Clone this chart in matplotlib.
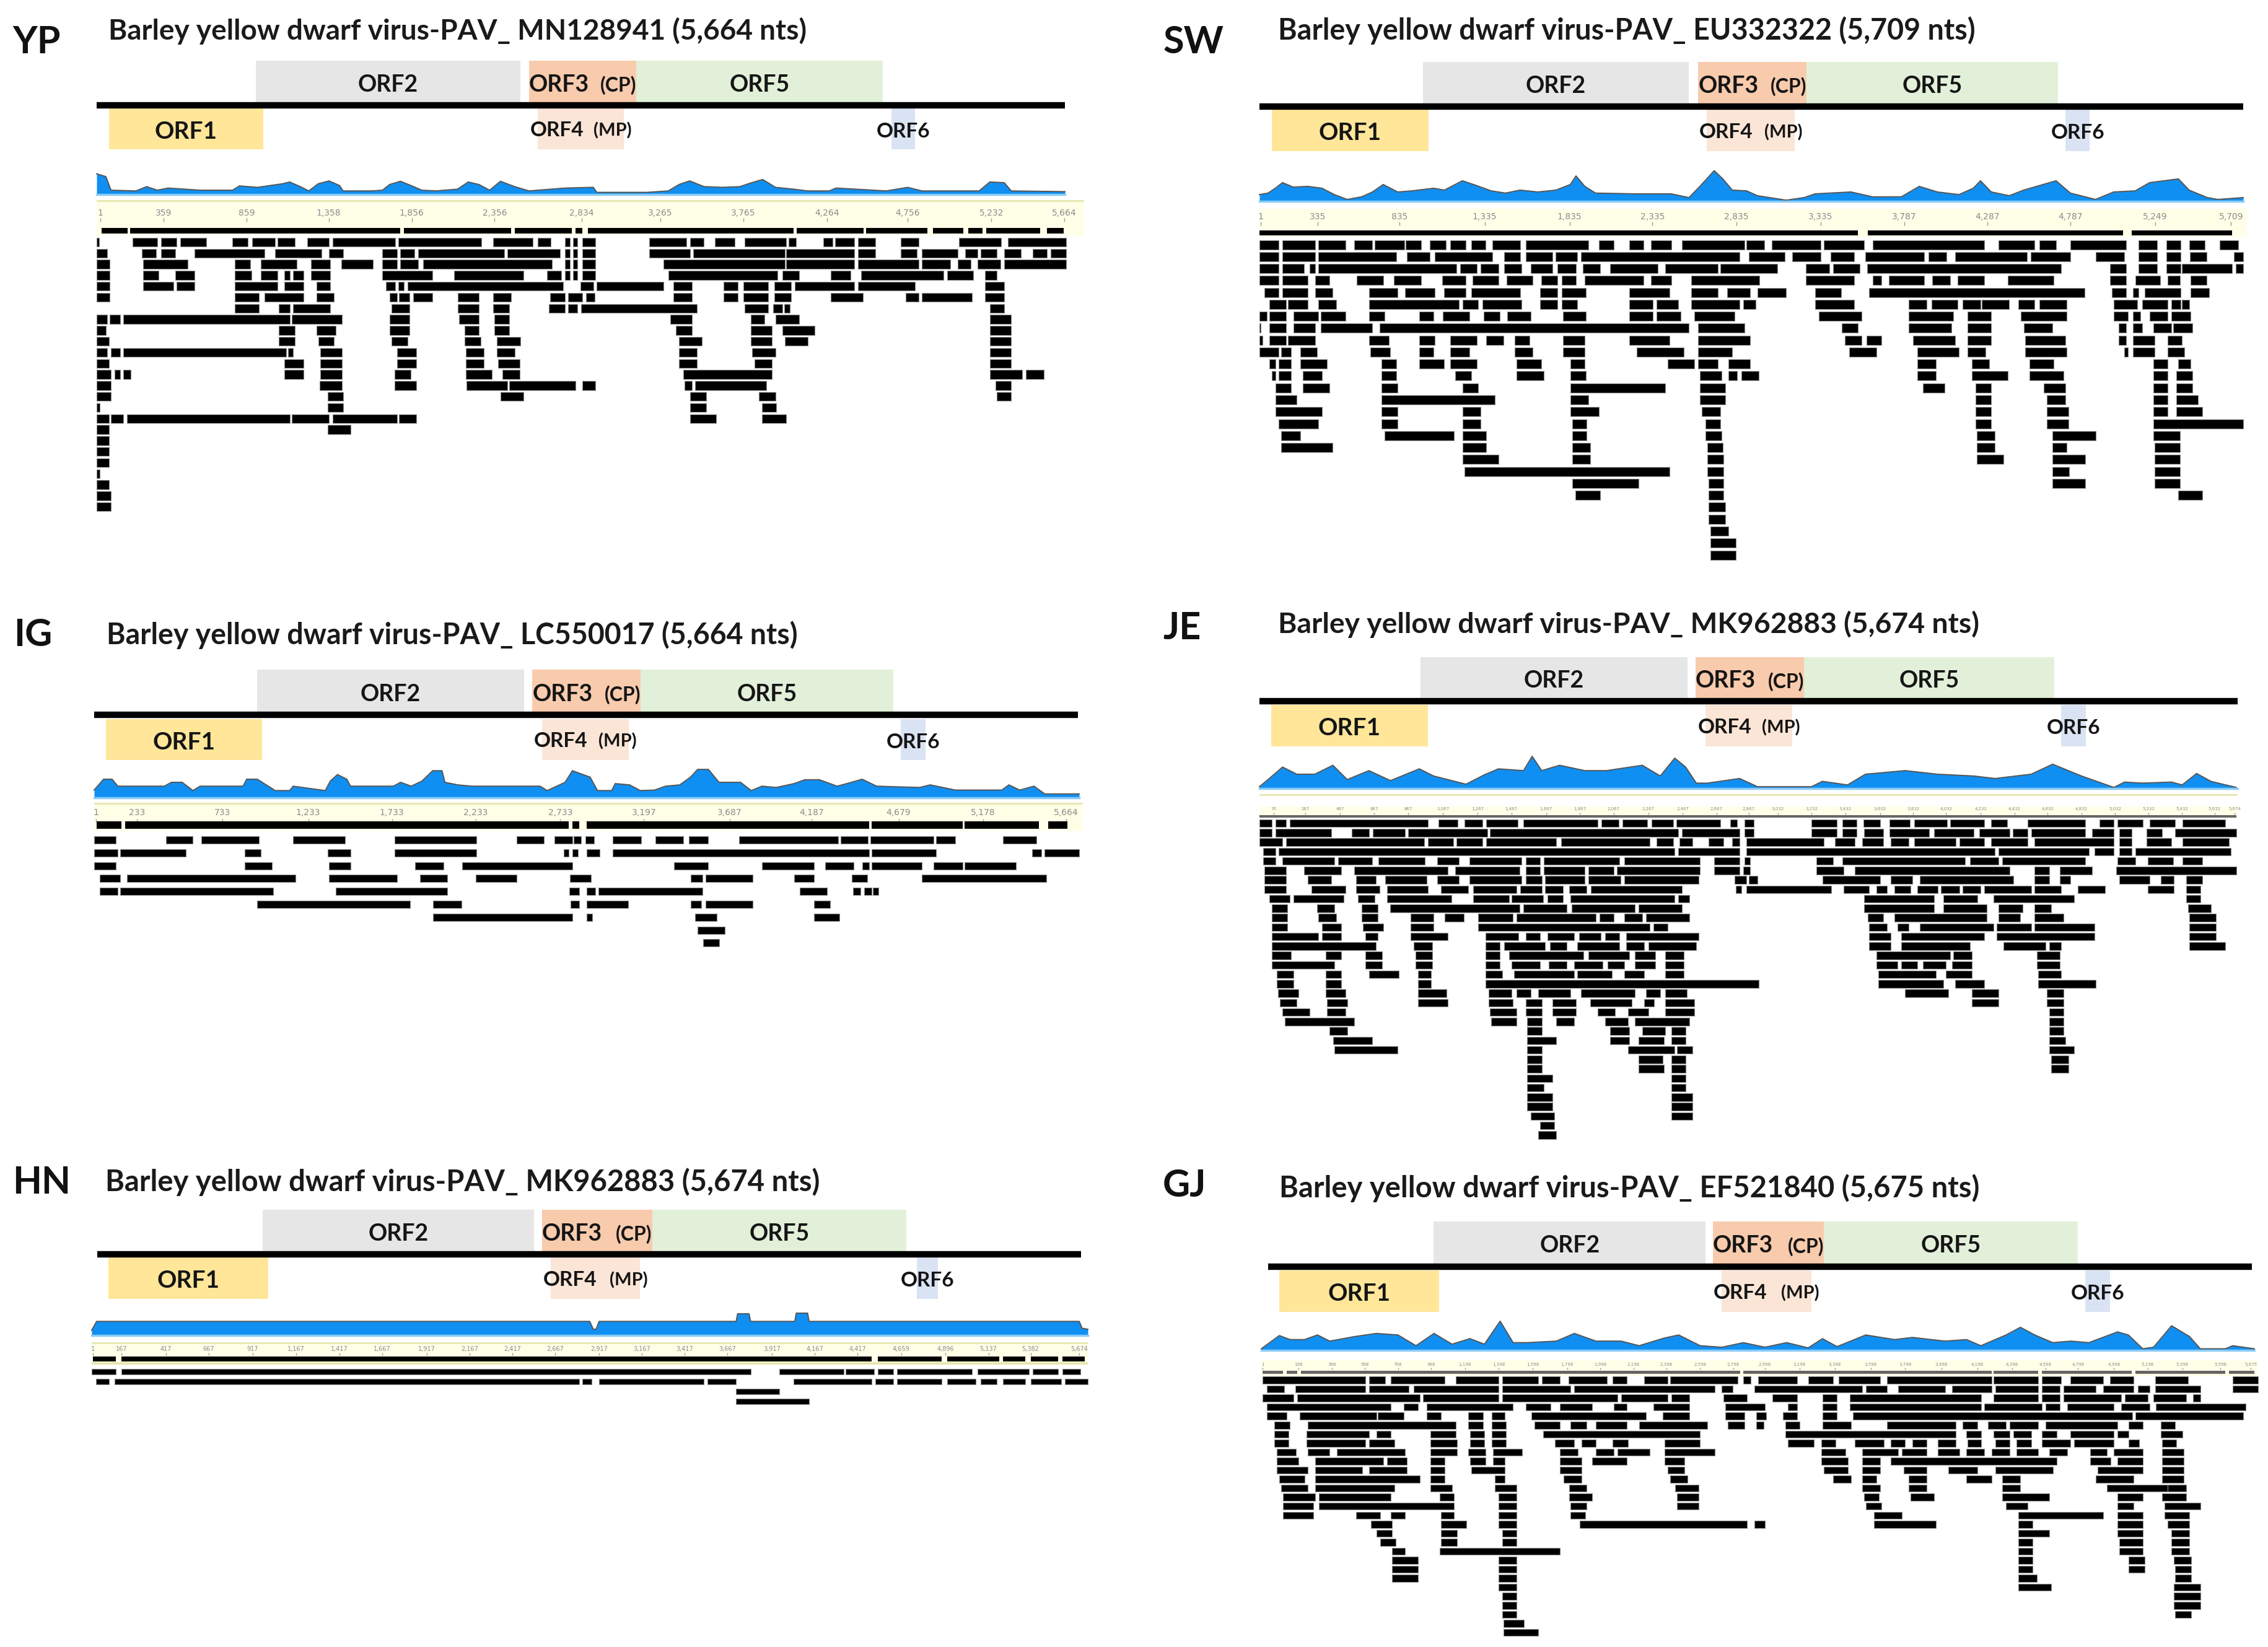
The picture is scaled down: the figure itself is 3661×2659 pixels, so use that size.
# Read pile-ups over the BYDV-PAV genome, six sites
import matplotlib
matplotlib.use('Agg')
import matplotlib.pyplot as plt

plt.rcParams['font.family'] = ['Lato', 'DejaVu Sans']

W, H = 3662, 2659

ORF_NAMES = ['ORF2', 'ORF3', 'ORF5', 'ORF1', 'ORF4', 'ORF6']

# ---------- YP ----------
orfs_yp = [(932, 2479), (2529, 3156), (3156, 4598), (71, 974), (2579, 3085), (4648, 4786)]
cov_pos_yp = [0, 54, 84, 230, 293, 355, 418, 606, 794, 836, 941, 1087, 1129, 1191, 1241, 1296, 1359, 1421, 1442, 1609, 1672, 1714, 1777, 1839, 1902, 1986, 2111, 2174, 2236, 2299, 2362, 2445, 2529, 2738, 2905, 2926, 3219, 3344, 3407, 3469, 3553, 3658, 3762, 3825, 3896, 3971, 4076, 4159, 4285, 4326, 4619, 4744, 4828, 5162, 5225, 5309, 5350, 5664]
cov_depth_yp = [58, 50, 12, 10, 22, 12, 18, 12, 12, 24, 20, 30, 35, 22, 10, 30, 38, 25, 10, 10, 12, 28, 37, 25, 12, 10, 15, 35, 28, 12, 37, 22, 10, 18, 20, 6, 6, 10, 28, 38, 22, 20, 22, 32, 42, 20, 15, 10, 10, 18, 10, 20, 10, 10, 35, 33, 10, 8]
tick_pos_yp = [20, 393, 878, 1358, 1843, 2328, 2838, 3298, 3783, 4272, 4745, 5234, 5660]
tick_labels_yp = ['1', '359', '859', '1,358', '1,856', '2,356', '2,834', '3,265', '3,765', '4,264', '4,756', '5,232', '5,664']
ref_yp = [29, 180, 196, 1777, 1797, 2424, 2445, 2780, 2801, 2842, 2872, 4076, 4096, 4485, 4502, 4861, 4891, 5070, 5100, 5183, 5204, 5518, 5559, 5656]
reads_yp = [
    [0, 13, 209, 355, 376, 468, 489, 640, 794, 886, 911, 1045, 1058, 1158, 1233, 1358, 1379, 1747, 1764, 2249, 2320, 2550, 2580, 2655, 2738, 2767, 2788, 2813, 2842, 2918, 3231, 3449, 3470, 3553, 3616, 3733, 3792, 4034, 4047, 4093, 4251, 4305, 4318, 4431, 4452, 4556, 4703, 4807, 5046, 5289, 5330, 5672],
    [0, 63, 263, 347, 376, 459, 573, 982, 1045, 1317, 1359, 1442, 1672, 1756, 1777, 1860, 1881, 2383, 2404, 2709, 2738, 2767, 2788, 2813, 2842, 2918, 3231, 3470, 3491, 4026, 4034, 4431, 4452, 4556, 4703, 4799, 4828, 5037, 5079, 5154, 5171, 5267, 5309, 5405, 5476, 5560, 5581, 5672],
    [0, 75, 272, 531, 807, 899, 961, 1170, 1254, 1367, 1430, 1618, 1672, 1756, 1777, 1881, 1910, 2663, 2738, 2767, 2788, 2813, 2842, 2918, 3315, 4025, 4034, 4431, 4452, 4807, 4828, 4995, 5037, 5112, 5154, 5288, 5309, 5672],
    [0, 75, 272, 364, 460, 573, 807, 907, 961, 1058, 1099, 1129, 1150, 1212, 1254, 1367, 1672, 1965, 2090, 2496, 2633, 2717, 2738, 2767, 2788, 2813, 2842, 2918, 3344, 3984, 4013, 4109, 4293, 4410, 4473, 4953, 4974, 5129, 5196, 5267],
    [0, 75, 272, 451, 468, 573, 807, 1058, 1099, 1212, 1287, 1367, 1693, 1747, 1764, 1797, 1818, 2730, 2830, 2905, 2926, 3315, 3374, 3482, 3666, 3750, 3783, 3930, 3963, 4063, 4084, 4431, 4452, 4786, 5196, 5309],
    [0, 75, 807, 949, 982, 1212, 1287, 1388, 1714, 1756, 1768, 1831, 1852, 1965, 2111, 2236, 2320, 2424, 2654, 2738, 2759, 2842, 2863, 2913, 3374, 3482, 3666, 3750, 3783, 3930, 3963, 4063, 4293, 4481, 4733, 4807, 4828, 5121, 5196, 5309],
    [807, 949, 1066, 1129, 1150, 1367, 1726, 1831, 2111, 2236, 2320, 2412, 2646, 2738, 2759, 2813, 2834, 3511, 3791, 3930, 3958, 4013, 4021, 4055, 5225, 5309],
    [0, 63, 75, 138, 155, 1129, 1141, 1434, 1714, 1831, 2119, 2236, 2328, 2412, 3357, 3482, 3825, 3908, 3971, 4109, 5225, 5350],
    [0, 54, 1066, 1158, 1287, 1400, 1714, 1831, 2153, 2236, 2328, 2412, 3390, 3482, 3825, 3950, 4013, 4201, 5225, 5350],
    [0, 71, 1066, 1158, 1296, 1388, 1726, 1818, 2153, 2245, 2341, 2479, 3407, 3541, 3825, 3950, 4025, 4159, 5225, 5350],
    [0, 63, 84, 138, 155, 1108, 1120, 1150, 1308, 1434, 1756, 1869, 2161, 2266, 2341, 2445, 3407, 3511, 3833, 3971, 5225, 5350],
    [0, 71, 1099, 1212, 1308, 1434, 1756, 1869, 2161, 2266, 2349, 2475, 3407, 3511, 3850, 3950, 5225, 5350],
    [0, 84, 105, 138, 155, 201, 1099, 1212, 1308, 1434, 1743, 1839, 2161, 2312, 2374, 2475, 3432, 3950, 5225, 5413, 5434, 5539],
    [0, 84, 1304, 1434, 1743, 1869, 2165, 2404, 2412, 2801, 2842, 2918, 3440, 3482, 3499, 3917, 5258, 5350],
    [0, 84, 1350, 1442, 2362, 2496, 3470, 3566, 3875, 3971, 5267, 5350],
    [0, 17, 1350, 1442, 3470, 3566, 3892, 3975],
    [0, 71, 84, 155, 176, 1129, 1141, 1359, 1379, 1756, 1768, 1869, 3470, 3624, 3892, 4034],
    [0, 71, 1350, 1484],
    [0, 71],
    [0, 71],
    [0, 71],
    [0, 17],
    [0, 71],
    [0, 84],
    [0, 84],
]

# ---------- SW ----------
orfs_sw = [(948, 2493), (2547, 3174), (3174, 4635), (71, 981), (2597, 3107), (4677, 4819)]
cov_pos_sw = [0, 50, 92, 134, 196, 280, 363, 434, 509, 593, 656, 718, 802, 885, 1011, 1073, 1178, 1261, 1345, 1428, 1512, 1616, 1720, 1804, 1837, 1888, 1950, 2180, 2389, 2493, 2556, 2639, 2689, 2744, 2827, 2890, 3057, 3161, 3224, 3433, 3558, 3725, 3829, 3934, 4059, 4143, 4184, 4247, 4351, 4435, 4623, 4706, 4852, 4957, 5082, 5166, 5333, 5395, 5500, 5562, 5709]
cov_depth_sw = [18, 22, 35, 50, 38, 40, 35, 18, 5, 12, 25, 45, 25, 28, 35, 30, 55, 42, 28, 22, 30, 25, 30, 45, 68, 40, 22, 20, 20, 10, 40, 82, 60, 30, 28, 15, 3, 10, 20, 25, 12, 12, 40, 25, 18, 35, 55, 25, 15, 30, 55, 22, 5, 25, 28, 50, 60, 30, 10, 5, 10]
tick_pos_sw = [8, 338, 814, 1307, 1800, 2280, 2768, 3257, 3742, 4226, 4706, 5199, 5638]
tick_labels_sw = ['1', '335', '835', '1,335', '1,835', '2,335', '2,835', '3,335', '3,787', '4,287', '4,787', '5,249', '5,709']
ref_sw = [0, 3474, 3529, 5011, 5061, 5646]
reads_sw = [
    [0, 113, 134, 322, 343, 501, 551, 656, 668, 840, 848, 940, 989, 1081, 1106, 1198, 1228, 1311, 1353, 1512, 1545, 1908, 1971, 2055, 2146, 2230, 2272, 2389, 2451, 2815, 2827, 2931, 2973, 3257, 3274, 3508, 3558, 4205, 4289, 4497, 4526, 4622, 4706, 5028, 5103, 5208, 5262, 5345, 5395, 5487, 5571, 5679],
    [0, 113, 134, 322, 343, 794, 856, 990, 1019, 1353, 1420, 1512, 1545, 1700, 1720, 1845, 1866, 2785, 2840, 3048, 3090, 3257, 3315, 3453, 3516, 3859, 3884, 3988, 4038, 4455, 4476, 4706, 4852, 5019, 5103, 5208, 5262, 5345, 5400, 5496, 5654, 5709],
    [0, 113, 134, 259, 292, 322, 343, 1144, 1165, 1261, 1282, 1386, 1420, 1520, 1574, 1700, 1729, 1837, 1875, 1979, 2034, 2313, 2355, 2660, 2673, 3007, 3170, 3307, 3328, 3483, 3525, 4652, 4936, 5028, 5103, 5208, 5262, 5345, 5354, 5646, 5667, 5709],
    [0, 113, 134, 280, 322, 405, 564, 718, 781, 940, 1061, 1198, 1236, 1386, 1436, 1587, 1637, 1729, 1754, 1837, 1887, 2230, 2272, 2389, 2506, 2902, 3170, 3453, 3558, 3608, 3654, 3859, 3905, 4009, 4050, 4205, 4343, 4610, 4936, 5028, 5082, 5228, 5270, 5341, 5404, 5496],
    [29, 113, 134, 280, 322, 426, 635, 802, 844, 1019, 1073, 1198, 1228, 1512, 1629, 1729, 1754, 1895, 2146, 2380, 2506, 2660, 2714, 2848, 2890, 3057, 3224, 3374, 3537, 4790, 4948, 5028, 5070, 5103, 5136, 5345, 5404, 5512],
    [58, 155, 167, 280, 343, 447, 635, 1157, 1178, 1270, 1295, 1520, 1629, 1729, 1754, 1845, 2146, 2284, 2305, 2430, 2506, 2785, 2806, 2881, 3224, 3453, 3767, 3871, 3901, 4050, 4080, 4184, 4193, 4351, 4405, 4497, 4526, 4685, 4957, 5095, 5124, 5270, 5291, 5345, 5354, 5395],
    [0, 42, 58, 155, 196, 342, 355, 501, 635, 727, 927, 1011, 1065, 1219, 1303, 1395, 1437, 1575, 1762, 1896, 2146, 2284, 2305, 2443, 2522, 2756, 3245, 3495, 3767, 4026, 4109, 4247, 4418, 4685, 4957, 5040, 5070, 5112, 5166, 5270, 5291, 5404],
    [0, 8, 58, 155, 196, 322, 355, 656, 697, 2493, 2547, 2815, 3378, 3474, 3767, 4017, 4109, 4247, 4435, 4602, 4986, 5028, 5070, 5124, 5187, 5291, 5304, 5416],
    [0, 17, 58, 155, 167, 322, 635, 752, 927, 1019, 1107, 1261, 1315, 1416, 1482, 1566, 1762, 1887, 2146, 2380, 2547, 2848, 3399, 3495, 3524, 3608, 3792, 4038, 4109, 4247, 4443, 4677, 4986, 5028, 5070, 5195, 5270, 5354],
    [0, 113, 125, 184, 238, 334, 643, 760, 927, 1011, 1107, 1219, 1482, 1587, 1762, 1887, 2188, 2464, 2547, 2744, 3424, 3579, 3817, 4059, 4109, 4213, 4443, 4685, 5019, 5040, 5070, 5195, 5270, 5366],
    [58, 92, 113, 184, 238, 393, 710, 793, 927, 1073, 1107, 1261, 1491, 1637, 1804, 1887, 2368, 2522, 2547, 2660, 2723, 2848, 3817, 3925, 4134, 4234, 4468, 4610, 5187, 5270, 5333, 5404],
    [71, 92, 113, 184, 251, 363, 710, 793, 1136, 1228, 1491, 1650, 1804, 1896, 2556, 2681, 2723, 2773, 2798, 2898, 3817, 3925, 4134, 4343, 4468, 4665, 5187, 5270, 5320, 5416],
    [92, 184, 251, 405, 710, 802, 1178, 1270, 1804, 2355, 2556, 2702, 3850, 3975, 4155, 4247, 4552, 4677, 5187, 5270, 5320, 5416],
    [92, 217, 710, 1366, 1804, 1908, 2556, 2702, 4155, 4247, 4568, 4677, 5187, 5270, 5320, 5445],
    [92, 363, 710, 802, 1178, 1282, 1804, 1971, 2568, 2673, 4155, 4247, 4568, 4694, 5187, 5270, 5320, 5470],
    [113, 342, 710, 802, 1178, 1282, 1816, 1900, 2589, 2673, 4155, 4247, 4568, 4694, 5187, 5709],
    [125, 238, 727, 1128, 1178, 1315, 1816, 1900, 2589, 2681, 4163, 4268, 4602, 4852, 5187, 5341],
    [125, 426, 1178, 1315, 1816, 1921, 2598, 2689, 4163, 4268, 4602, 4685, 5195, 5341],
    [1178, 1386, 1816, 1921, 2598, 2694, 4163, 4318, 4602, 4794, 5195, 5341],
    [1190, 2380, 2598, 2694, 4602, 4698, 5195, 5341],
    [1816, 2200, 2606, 2694, 4602, 4794, 5195, 5341],
    [1833, 1979, 2606, 2694, 5333, 5470],
    [2606, 2702],
    [2606, 2702],
    [2618, 2723],
    [2618, 2765],
    [2618, 2765],
]

# ---------- IG ----------
orfs_ig = [(938, 2474), (2523, 3145), (3145, 4602), (66, 967), (2577, 3079), (4643, 4787)]
cov_pos_ig = [0, 54, 103, 136, 403, 445, 506, 568, 609, 856, 877, 938, 1013, 1041, 1124, 1144, 1329, 1358, 1399, 1453, 1474, 1720, 1762, 1823, 1885, 1947, 2000, 2017, 2091, 2173, 2420, 2564, 2605, 2708, 2750, 2852, 2894, 2976, 2996, 3079, 3140, 3223, 3285, 3367, 3429, 3470, 3532, 3593, 3717, 3778, 3840, 3922, 4025, 4087, 4170, 4272, 4355, 4416, 4499, 4746, 4807, 4952, 5219, 5260, 5322, 5404, 5466, 5664]
cov_depth_ig = [30, 72, 72, 45, 45, 60, 60, 28, 45, 45, 72, 72, 40, 28, 28, 45, 28, 65, 90, 72, 45, 45, 60, 45, 65, 105, 105, 60, 50, 45, 45, 45, 28, 60, 105, 80, 28, 28, 55, 50, 28, 30, 45, 50, 80, 110, 110, 60, 60, 28, 45, 40, 55, 70, 70, 45, 60, 72, 45, 40, 50, 30, 30, 50, 30, 45, 15, 15]
tick_pos_ig = [12, 247, 737, 1231, 1712, 2194, 2680, 3161, 3655, 4124, 4626, 5112, 5590]
tick_labels_ig = ['1', '233', '733', '1,233', '1,733', '2,233', '2,733', '3,197', '3,687', '4,187', '4,679', '5,178', '5,664']
ref_ig = [16, 156, 177, 2729, 2749, 2791, 2832, 4458, 4470, 4993, 5005, 5433, 5487, 5598]
reads_ig = [
    [0, 123, 412, 568, 617, 947, 1144, 1441, 1729, 2198, 2428, 2585, 2647, 2749, 2758, 2799, 2824, 2873, 2980, 3145, 3227, 3387, 3420, 3531, 3708, 4280, 4293, 4449, 4462, 4828, 4841, 4951, 5227, 5417],
    [0, 136, 148, 527, 864, 959, 1342, 1474, 1729, 2198, 2700, 2729, 2749, 2782, 2832, 2906, 2980, 4458, 4470, 4840, 5392, 5445, 5466, 5664],
    [0, 123, 864, 1021, 1350, 1474, 1844, 2009, 2116, 2749, 3334, 3531, 3840, 4141, 4202, 4367, 4416, 4458, 4470, 4758, 4828, 4993, 5005, 5301],
    [33, 148, 189, 1157, 1350, 1741, 1873, 2029, 2194, 2428, 2737, 2856, 3429, 3498, 3515, 3787, 4025, 4141, 4355, 4445, 4758, 5474],
    [33, 136, 148, 1029, 1391, 2029, 2733, 2791, 2832, 2881, 2898, 3499, 4058, 4215, 4363, 4408, 4429, 4470, 4478, 4511],
    [938, 1815, 1947, 2111, 2741, 2791, 2832, 3070, 3429, 3490, 3515, 3787, 4141, 4231],
    [1947, 2749, 2832, 2865, 3457, 3581, 4141, 4285],
    [3470, 3626],
    [3503, 3593],
]

# ---------- JE ----------
orfs_je = [(935, 2484), (2530, 3160), (3160, 4609), (67, 977), (2588, 3090), (4651, 4793)]
cov_pos_je = [0, 50, 134, 217, 321, 426, 509, 635, 760, 927, 1010, 1198, 1303, 1386, 1532, 1582, 1637, 1741, 1887, 2012, 2221, 2325, 2409, 2472, 2534, 2597, 2785, 2889, 3202, 3265, 3411, 3515, 3745, 3933, 4142, 4267, 4476, 4601, 4768, 4956, 5018, 5123, 5290, 5352, 5436, 5519, 5666]
cov_depth_je = [5, 25, 60, 40, 40, 65, 25, 50, 22, 55, 35, 12, 38, 55, 50, 90, 50, 65, 50, 50, 65, 35, 85, 60, 15, 15, 28, 5, 5, 20, 10, 40, 50, 40, 35, 28, 40, 68, 35, 3, 18, 15, 18, 10, 42, 20, 3]
tick_pos_je = [84, 267, 468, 664, 864, 1065, 1265, 1461, 1662, 1858, 2054, 2255, 2455, 2651, 2839, 3006, 3202, 3399, 3599, 3791, 3983, 4184, 4380, 4572, 4768, 4964, 5157, 5352, 5540, 5657]
tick_labels_je = ['70', '267', '467', '667', '867', '1,067', '1,267', '1,467', '1,667', '1,867', '2,067', '2,267', '2,467', '2,667', '2,867', '3,032', '3,232', '3,432', '3,632', '3,832', '4,032', '4,232', '4,432', '4,632', '4,832', '5,032', '5,232', '5,432', '5,632', '5,674']
ref_je = [0, 5666]
reads_je = [
    [0, 71, 92, 154, 175, 977, 1040, 1149, 1190, 1295, 1315, 1499, 1532, 1962, 1983, 2083, 2104, 2250, 2275, 2400, 2417, 2672, 2730, 2772, 2814, 2868, 3202, 3348, 3382, 3465, 3503, 3599, 3653, 3774, 3799, 3987, 4008, 4204, 4245, 4338, 4455, 4789, 4873, 4956, 4977, 5123, 5165, 5311, 5353, 5603],
    [0, 71, 92, 417, 534, 635, 656, 843, 864, 1323, 1336, 2430, 2451, 2785, 2814, 2868, 3202, 3348, 3382, 3465, 3507, 3620, 3653, 3883, 3913, 4142, 4175, 4350, 4371, 4455, 4476, 4789, 4831, 4956, 4986, 5061, 5144, 5236, 5311, 5666],
    [0, 134, 154, 956, 977, 1123, 1144, 1295, 1315, 1720, 1749, 2263, 2305, 2400, 2438, 2513, 2605, 2693, 2743, 2785, 2826, 3273, 3340, 3453, 3495, 3620, 3662, 3766, 3799, 4038, 4059, 4204, 4245, 4455, 4497, 4956, 4986, 5061, 5144, 5290, 5353, 5624],
    [21, 92, 113, 2409, 2430, 2785, 2826, 4267, 4288, 4810, 4843, 4956, 4986, 5061, 5082, 5636],
    [21, 92, 134, 434, 455, 655, 689, 960, 1031, 1157, 1219, 1520, 1545, 1628, 1649, 2088, 2117, 2555, 2639, 2785, 2814, 2847, 3232, 3327, 3382, 4092, 4121, 4288, 4309, 4789, 4977, 5082, 5152, 5302, 5353, 5470],
    [29, 154, 259, 476, 551, 1094, 1136, 1511, 1545, 1628, 1649, 1887, 1908, 2054, 2075, 2555, 2639, 2785, 2806, 2847, 3232, 3390, 3453, 4350, 4497, 4580, 4643, 4831, 4969, 5666],
    [29, 154, 280, 417, 559, 676, 731, 969, 1031, 1157, 1219, 1520, 1545, 1637, 1657, 1887, 1908, 2096, 2117, 2547, 2755, 2826, 2839, 2889, 3265, 3599, 3662, 3787, 3829, 4372, 4497, 4580, 4643, 4705, 4986, 5165, 5228, 5303, 5374, 5470],
    [29, 154, 301, 501, 559, 697, 739, 977, 1052, 1211, 1240, 1491, 1512, 1637, 1657, 1762, 1795, 1896, 1921, 2451, 2764, 2797, 2826, 3315, 3390, 3536, 3578, 3641, 3683, 3775, 3816, 3933, 3954, 4059, 4080, 4184, 4205, 4476, 4497, 4651, 4747, 4906, 5153, 5303, 5374, 5458],
    [58, 175, 196, 488, 572, 668, 739, 1115, 1240, 1449, 1462, 1645, 1670, 1762, 1804, 2409, 2430, 2493, 3507, 3912, 3966, 4163, 4259, 4726, 5374, 5458],
    [71, 163, 334, 434, 593, 685, 760, 1511, 1532, 1783, 1812, 2179, 2200, 2451, 3507, 3912, 3966, 4217, 4288, 4426, 4497, 4593, 5386, 5519],
    [71, 163, 343, 447, 593, 685, 877, 1011, 1073, 1186, 1269, 1470, 1491, 1950, 1971, 2054, 2117, 2221, 2242, 2493, 3528, 3620, 3683, 4217, 4288, 4413, 4497, 4664, 5394, 5549],
    [71, 163, 363, 476, 601, 718, 877, 1011, 1269, 2263, 2284, 2367, 3536, 3641, 3703, 3766, 3829, 4259, 4275, 4476, 4497, 4843, 5394, 5549],
    [71, 342, 363, 476, 614, 685, 877, 1094, 1311, 1503, 1545, 1628, 1670, 1824, 1854, 1979, 2004, 2088, 2129, 2547, 3536, 3662, 3724, 4204, 4275, 4843, 5394, 5549],
    [71, 676, 893, 1002, 1311, 1394, 1420, 1657, 1687, 1783, 1845, 2088, 2129, 2230, 2255, 2534, 3536, 3662, 3724, 4121, 4317, 4559, 4580, 4651, 5394, 5603],
    [71, 184, 384, 476, 614, 710, 906, 1002, 1311, 1394, 1449, 1879, 1908, 2146, 2179, 2296, 2355, 2463, 3578, 4008, 4025, 4133, 4509, 4643],
    [71, 434, 614, 710, 906, 1002, 1311, 1394, 1461, 1628, 1678, 1783, 1824, 1991, 2021, 2117, 2179, 2296, 2355, 2463, 3578, 3703, 3724, 3816, 3849, 3983, 4016, 4133, 4509, 4643],
    [100, 196, 384, 476, 635, 810, 919, 994, 1311, 1407, 1478, 1824, 1845, 2046, 2117, 2230, 2355, 2463, 3591, 3925, 3983, 4133, 4517, 4651],
    [100, 196, 384, 476, 919, 994, 1311, 2898, 3591, 3966, 4037, 4204, 4517, 4851],
    [109, 225, 384, 501, 919, 1086, 1328, 1461, 1491, 1574, 1616, 1804, 1866, 2179, 2242, 2326, 2355, 2480, 3745, 3995, 4133, 4288, 4568, 4664],
    [117, 217, 392, 509, 919, 1094, 1328, 1470, 1545, 1637, 1699, 1837, 1920, 2158, 2230, 2288, 2355, 2522, 4133, 4288, 4568, 4664],
    [134, 292, 392, 501, 1336, 1491, 1545, 1637, 1699, 1837, 1962, 2062, 2138, 2255, 2355, 2522, 4580, 4664],
    [146, 551, 1344, 1491, 1553, 1637, 1720, 1824, 2004, 2138, 2179, 2493, 4580, 4664],
    [405, 509, 1553, 1637, 2033, 2146, 2221, 2355, 2388, 2472, 4580, 4664],
    [426, 655, 1553, 1720, 2033, 2146, 2200, 2346, 2388, 2472, 4580, 4676],
    [434, 802, 1553, 1637, 2138, 2409, 2422, 2513, 4580, 4726],
    [1553, 1637, 2200, 2338, 2388, 2472, 4593, 4693],
    [1553, 1637, 2200, 2346, 2388, 2472, 4593, 4693],
    [1553, 1699, 2388, 2472],
    [1553, 1649, 2388, 2472],
    [1553, 1699, 2388, 2513],
    [1553, 1699, 2388, 2513],
    [1574, 1712, 2388, 2513],
    [1628, 1712],
    [1616, 1720],
]

# ---------- HN ----------
orfs_hn = [(953, 2520), (2565, 3200), (3200, 4668), (66, 986), (2615, 3130), (4726, 4850)]
cov_pos_hn = [0, 28, 2837, 2857, 2873, 2890, 3671, 3679, 3744, 3753, 4005, 4013, 4078, 4086, 5625, 5641, 5674]
cov_depth_hn = [25, 68, 68, 30, 30, 68, 68, 105, 105, 68, 68, 108, 108, 68, 68, 35, 30]
tick_pos_hn = [8, 171, 423, 667, 916, 1164, 1412, 1656, 1909, 2153, 2397, 2641, 2890, 3134, 3378, 3622, 3875, 4119, 4363, 4611, 4864, 5108, 5348, 5625]
tick_labels_hn = ['1', '167', '417', '667', '917', '1,167', '1,417', '1,667', '1,917', '2,167', '2,417', '2,667', '2,917', '3,167', '3,417', '3,667', '3,917', '4,167', '4,417', '4,659', '4,896', '5,137', '5,382', '5,674']
ref_hn = [8, 138, 171, 4444, 4477, 4843, 4872, 5169, 5189, 5319, 5348, 5503, 5531, 5657]
reads_hn = [
    [0, 138, 171, 3753, 3915, 4282, 4294, 4457, 4477, 4566, 4587, 5014, 5047, 5340, 5360, 5503, 5531, 5633],
    [24, 98, 130, 2776, 2796, 2849, 2890, 3488, 3508, 3671, 3997, 4444, 4465, 4566, 4587, 4843, 4872, 5035, 5063, 5157, 5189, 5319, 5348, 5523, 5544, 5674],
    [3671, 3915],
    [3671, 4086],
]

# ---------- GJ ----------
orfs_gj = [(955, 2524), (2565, 3205), (3205, 4670), (66, 988), (2615, 3134), (4715, 4857)]
cov_pos_gj = [0, 103, 164, 247, 321, 391, 535, 658, 781, 884, 987, 1090, 1192, 1275, 1365, 1439, 1521, 1686, 1789, 1912, 2056, 2159, 2303, 2385, 2508, 2632, 2755, 2878, 3002, 3125, 3207, 3290, 3454, 3619, 3721, 3906, 4030, 4112, 4256, 4338, 4420, 4523, 4626, 4729, 4893, 4955, 5037, 5099, 5202, 5304, 5366, 5510, 5551, 5675]
cov_depth_gj = [5, 48, 35, 35, 50, 30, 45, 55, 50, 15, 55, 20, 38, 20, 95, 25, 25, 30, 55, 30, 30, 15, 40, 50, 15, 10, 25, 10, 25, 8, 38, 12, 50, 35, 42, 30, 35, 15, 50, 75, 50, 25, 30, 25, 60, 50, 5, 10, 80, 45, 5, 5, 15, 5]
tick_pos_gj = [8, 214, 403, 592, 781, 970, 1164, 1357, 1550, 1748, 1937, 2126, 2315, 2508, 2697, 2878, 3076, 3277, 3483, 3680, 3886, 4091, 4289, 4482, 4667, 4873, 5066, 5263, 5481, 5654]
tick_labels_gj = ['1', '198', '398', '598', '798', '998', '1,198', '1,398', '1,598', '1,798', '1,998', '2,198', '2,398', '2,598', '2,798', '2,998', '3,198', '3,398', '3,598', '3,798', '3,998', '4,198', '4,398', '4,598', '4,798', '4,998', '5,198', '5,398', '5,598', '5,675']
ref_gj = [8, 123, 144, 206, 226, 2735, 2755, 4173, 4185, 4440, 4461, 4975, 4996, 5510, 5531, 5675]
reads_gj = [
    [8, 596, 617, 707, 740, 1049, 1110, 1357, 1377, 1583, 1603, 1706, 1756, 1974, 2007, 2089, 2188, 2323, 2336, 2722, 2755, 2796, 2838, 3064, 3125, 3269, 3298, 3536, 3577, 4173, 4185, 4440, 4461, 4572, 4625, 4810, 4851, 4983, 5107, 5296, 5551, 5695],
    [33, 132, 193, 596, 617, 843, 872, 1357, 1377, 1768, 1789, 2591, 2632, 2693, 2817, 3434, 3454, 3577, 3639, 3908, 3947, 4173, 4194, 4440, 4461, 4564, 4585, 4770, 4811, 4983, 5008, 5078, 5107, 5366, 5551, 5695],
    [8, 185, 206, 905, 925, 1357, 1377, 2035, 2056, 2323, 2344, 2447, 2640, 2776, 2920, 3064, 3207, 3290, 3364, 4112, 4185, 4440, 4461, 4564, 4585, 4914, 4934, 5066, 5099, 5284, 5325, 5366],
    [33, 740, 814, 896, 946, 1439, 1513, 1653, 1706, 1892, 2015, 2089, 2241, 2447, 2652, 2878, 3010, 3064, 3207, 3290, 3364, 4112, 4132, 4461, 4482, 4564, 4605, 4872, 4914, 5078, 5111, 5625],
    [33, 144, 218, 658, 666, 814, 946, 1028, 1184, 1267, 1316, 1390, 1542, 2200, 2295, 2447, 2652, 2763, 2829, 2887, 2981, 3064, 3207, 3290, 3380, 4976, 4996, 5613],
    [74, 164, 267, 1110, 1184, 1267, 1316, 1398, 1563, 1706, 1768, 1858, 1912, 2089, 2159, 2550, 2665, 2763, 2829, 2870, 2994, 3076, 3207, 3372, 3577, 3968, 4009, 4091, 4153, 4256, 4276, 4440, 4482, 4893, 4955, 5037, 5140, 5222],
    [74, 156, 259, 617, 658, 740, 966, 1110, 1192, 1275, 1316, 1398, 1612, 2508, 2994, 3968, 4029, 4112, 4185, 4276, 4297, 4399, 4461, 4544, 4625, 4872, 4893, 4955, 5140, 5263],
    [74, 156, 259, 596, 617, 761, 966, 1118, 1192, 1275, 1316, 1398, 1678, 1789, 1830, 1912, 2007, 2097, 2303, 2508, 3010, 3158, 3199, 3282, 3392, 3557, 3598, 3680, 3721, 3803, 3865, 3968, 4037, 4112, 4194, 4276, 4317, 4399, 4461, 4625, 4646, 4872, 4955, 5017, 5148, 5230],
    [90, 197, 267, 390, 432, 822, 966, 1118, 1184, 1283, 1324, 1489, 1706, 1809, 1912, 2015, 2036, 2220, 2303, 2591, 3199, 3339, 3434, 3639, 3660, 3803, 3865, 3989, 4029, 4132, 4174, 4276, 4317, 4440, 4502, 4605, 4737, 4831, 4872, 5037, 5148, 5271],
    [90, 214, 308, 699, 720, 831, 966, 1049, 1192, 1283, 1324, 1390, 1706, 1830, 1891, 2089, 2303, 2418, 3199, 3351, 3434, 3536, 3598, 4544, 4737, 4852, 4893, 5037, 5148, 5271],
    [90, 267, 308, 576, 617, 831, 966, 1049, 1200, 1390, 1706, 1830, 2323, 2418, 3216, 3351, 3434, 3536, 3672, 3803, 3927, 4091, 4194, 4523, 4778, 5037, 5148, 5271],
    [103, 247, 308, 905, 966, 1049, 1336, 1390, 1727, 1830, 2336, 2434, 3269, 3372, 3434, 3516, 3701, 3803, 4029, 4173, 4235, 4338, 4770, 4983, 5148, 5271],
    [115, 267, 308, 761, 966, 1090, 1336, 1460, 1760, 1859, 2364, 2500, 3434, 3536, 3701, 3803, 4235, 4338, 4832, 5181, 5181, 5284],
    [123, 308, 329, 740, 1020, 1102, 1357, 1460, 1760, 1892, 2377, 2500, 3446, 3528, 3709, 3845, 4235, 4502, 4893, 5037, 5148, 5284],
    [123, 296, 329, 1102, 1357, 1460, 1768, 1859, 2377, 2500, 3454, 3545, 4256, 4379, 4893, 4983, 5160, 5366],
    [123, 296, 543, 678, 740, 822, 1028, 1102, 1357, 1460, 1768, 1850, 3503, 3660, 4326, 4810, 4893, 5037, 5160, 5304],
    [625, 748, 1028, 1172, 1357, 1460, 1818, 2776, 2817, 2878, 3503, 3857, 4326, 4408, 4893, 5037, 5181, 5304],
    [658, 748, 1028, 1118, 1378, 1460, 4326, 4502, 4893, 5037, 5202, 5304],
    [678, 769, 1028, 1118, 1378, 1460, 4326, 4408, 4902, 5037, 5202, 5304],
    [748, 822, 1020, 1706, 4326, 4408, 4902, 5037, 5202, 5304],
    [748, 896, 1357, 1460, 4326, 4408, 4955, 5049, 5214, 5313],
    [748, 896, 1357, 1460, 4326, 4408, 4955, 5049, 5222, 5313],
    [748, 896, 1357, 1460, 4326, 4433, 5222, 5313],
    [1357, 1460, 4326, 4515, 5214, 5366],
    [1378, 1460, 5214, 5366],
    [1378, 1460, 5214, 5366],
    [1378, 1460, 5222, 5313],
    [1386, 1501],
    [1386, 1583],
]

# colours of the ORF boxes, same order as ORF_NAMES
ORF_COLORS = ['#E7E6E6', '#F8CBAD', '#E2F0D9', '#FFE699', '#FBE5D6', '#DAE3F3']
BLUE = '#0F8FF2'
RULER = '#FFFFE8'
OLIVE = '#E6E6AE'

fig = plt.figure(figsize=(W / 100, H / 100), dpi=100)


def px_axes(x0, x1, y0, y1):
    # axes placed in image pixels, y measured from the top
    ax = fig.add_axes([x0 / W, 1 - y1 / H, (x1 - x0) / W, (y1 - y0) / H])
    ax.axis('off')
    return ax


def pairs(row):
    return [(s, e - s) for s, e in zip(row[::2], row[1::2])]


def draw_panel(label, title, length, orfs, cov_pos, cov_depth, tick_pos, tick_labels, ref, reads, g):
    fig.text(g['label_xy'][0] / W, 1 - g['label_xy'][1] / H, label, fontsize=44, fontweight='bold',
             va='center', ha='left', color='#111111')
    fig.text(g['title_xy'][0] / W, 1 - g['title_xy'][1] / H, title, fontsize=g['title_fs'],
             fontweight='bold', va='center', ha='left', color='#1a1a1a')

    # ORF map, y in image pixels
    top, line_y, low0, low1 = g['map_y']
    mx = px_axes(g['map_x'][0], g['map_x'][1], top, low1)
    mx.set_xlim(0, length)
    mx.set_ylim(low1, top)
    for i, (name, (s, e)) in enumerate(zip(ORF_NAMES, orfs)):
        y0, y1 = (top, line_y) if i < 3 else (low0, low1)
        mx.broken_barh([(s, e - s)], (y0, y1 - y0), facecolors=ORF_COLORS[i], zorder=1)
    mx.hlines(line_y, 0, length, color='black', lw=7.5, zorder=3)
    up_y = (top + line_y) / 2 + 3
    low_y = (low0 + low1) / 2 + 4
    ink = '#151515'
    mx.text(sum(orfs[0]) / 2, up_y, 'ORF2', fontsize=27, fontweight='bold', ha='center', va='center', color=ink, zorder=4)
    mx.text(sum(orfs[2]) / 2, up_y, 'ORF5', fontsize=27, fontweight='bold', ha='center', va='center', color=ink, zorder=4)
    mx.text(sum(orfs[3]) / 2, low_y, 'ORF1', fontsize=28, fontweight='bold', ha='center', va='center', color=ink, zorder=4)
    mx.text(orfs[1][0], up_y, 'ORF3', fontsize=27, fontweight='bold', ha='left', va='center', color=ink, zorder=4)
    mx.text(orfs[1][1], up_y + 1, '(CP)', fontsize=23, fontweight='bold', ha='right', va='center', color=ink, zorder=4)
    mx.text(orfs[4][0] - 45, low_y - 1, 'ORF4', fontsize=24, fontweight='bold', ha='left', va='center', color=ink, zorder=4)
    mx.text(orfs[4][1] + 45, low_y - 1, '(MP)', fontsize=21, fontweight='bold', ha='right', va='center', color=ink, zorder=4)
    mx.text(sum(orfs[5]) / 2, low_y, 'ORF6', fontsize=24, fontweight='bold', ha='center', va='center', color=ink, zorder=4)

    # coverage profile
    tx0, tx1 = g['track_x']
    peak = max(cov_depth)
    base = g['cov_base']
    cx = px_axes(tx0, tx1, base - peak * g['cov_scale'], base)
    cx.set_xlim(0, length)
    cx.set_ylim(0, peak)
    cx.fill_between(cov_pos, cov_depth, 0, color=BLUE, lw=0, clip_on=False)
    cx.plot(cov_pos, cov_depth, color='#555555', lw=1.4, clip_on=False)
    cx.axhline(0, color='#8ACBF7', lw=2.5, clip_on=False)

    # ruler with the reference read, y in image pixels
    r0, r1 = g['ruler_y']
    y_top = min(g['olive'] + [r0])
    y_bot = max(g['olive'] + [r1])
    rx = px_axes(tx0, g['ruler_x1'], y_top, y_bot)
    rx.set_xlim(0, length * (g['ruler_x1'] - tx0) / (tx1 - tx0))
    rx.set_ylim(y_bot, y_top)
    rx.axhspan(r0, r1, color=RULER, lw=0, zorder=0)
    for oy in g['olive']:
        rx.axhline(oy, color=OLIVE, lw=4, zorder=1)
    rx.vlines(tick_pos, g['tick_y'][0], g['tick_y'][1], color='#999999', lw=1, zorder=2)
    for p, t in zip(tick_pos, tick_labels):
        rx.text(p, g['tick_label_y'], t, fontsize=g['tick_fs'], color='#8a8a8a', ha='center', va='center',
                family=['DejaVu Sans'], zorder=2)
    ry, rh = g['ref_y'], g['ref_h']
    rx.broken_barh(pairs(ref), (ry - rh / 2, rh), facecolors=g['ref_color'], zorder=3, clip_on=False)

    # pile-up, y = row number
    first, pitch, bar = g['rows']
    n = len(reads)
    ax = px_axes(tx0, tx1, first - pitch / 2, first + (n - 0.5) * pitch)
    ax.set_xlim(0, length)
    ax.set_ylim(n - 0.5, -0.5)
    h = bar / pitch
    for i, row in enumerate(reads):
        ax.broken_barh(pairs(row), (i - h / 2, h), facecolors='black', edgecolors='#8c8c8c', linewidth=0.8, clip_on=False)


draw_panel('YP', 'Barley yellow dwarf virus-PAV_ MN128941 (5,664 nts)', 5664, orfs_yp, cov_pos_yp, cov_depth_yp,
           tick_pos_yp, tick_labels_yp, ref_yp, reads_yp,
           dict(label_xy=(20, 68), title_xy=(175, 50), title_fs=33.1, map_x=(156, 1719), map_y=(98, 170, 175, 241),
                track_x=(156, 1719), cov_base=314, cov_scale=0.577, ruler_y=(323, 380), ruler_x1=1750,
                olive=[323], tick_y=(352, 358), tick_label_y=344, tick_fs=10, ref_y=372, ref_h=9,
                ref_color='black', rows=(391, 17.8, 14.5)))
draw_panel('SW', 'Barley yellow dwarf virus-PAV_ EU332322 (5,709 nts)', 5709, orfs_sw, cov_pos_sw, cov_depth_sw,
           tick_pos_sw, tick_labels_sw, ref_sw, reads_sw,
           dict(label_xy=(1878, 68), title_xy=(2063, 49), title_fs=33.6, map_x=(2033, 3621), map_y=(100, 172, 177, 244),
                track_x=(2033, 3621), cov_base=325, cov_scale=0.603, ruler_y=(337, 383), ruler_x1=3627,
                olive=[], tick_y=(358, 364), tick_label_y=350, tick_fs=10, ref_y=376, ref_h=8,
                ref_color='black', rows=(395, 19.27, 15)))
draw_panel('IG', 'Barley yellow dwarf virus-PAV_ LC550017 (5,664 nts)', 5664, orfs_ig, cov_pos_ig, cov_depth_ig,
           tick_pos_ig, tick_labels_ig, ref_ig, reads_ig,
           dict(label_xy=(22, 1025), title_xy=(172, 1025), title_fs=33.5, map_x=(152, 1740), map_y=(1081, 1154, 1161, 1227),
                track_x=(152, 1742), cov_base=1288, cov_scale=0.4167, ruler_y=(1296, 1341), ruler_x1=1748,
                olive=[1296], tick_y=(1322, 1327), tick_label_y=1312, tick_fs=10, ref_y=1332, ref_h=12,
                ref_color='black', rows=(1356, 20.8, 12)))
draw_panel('JE', 'Barley yellow dwarf virus-PAV_ MK962883 (5,674 nts)', 5674, orfs_je, cov_pos_je, cov_depth_je,
           tick_pos_je, tick_labels_je, ref_je, reads_je,
           dict(label_xy=(1877, 1014), title_xy=(2063, 1008), title_fs=33.3, map_x=(2033, 3612), map_y=(1061, 1132, 1138, 1205),
                track_x=(2033, 3612), cov_base=1273, cov_scale=0.577, ruler_y=(1302, 1321), ruler_x1=3612,
                olive=[1282], tick_y=(1312, 1315), tick_label_y=1306, tick_fs=5, ref_y=1318, ref_h=4,
                ref_color='#666666', rows=(1329, 15.25, 12.5)))
draw_panel('HN', 'Barley yellow dwarf virus-PAV_ MK962883 (5,674 nts)', 5674, orfs_hn, cov_pos_hn, cov_depth_hn,
           tick_pos_hn, tick_labels_hn, ref_hn, reads_hn,
           dict(label_xy=(20, 1909), title_xy=(170, 1908), title_fs=33.9, map_x=(157, 1745), map_y=(1953, 2025, 2030, 2097),
                track_x=(148, 1756), cov_base=2156, cov_scale=0.333, ruler_y=(2167, 2203), ruler_x1=1756,
                olive=[2167, 2202], tick_y=(2184, 2188), tick_label_y=2178, tick_fs=7, ref_y=2194, ref_h=8,
                ref_color='black', rows=(2214, 16.2, 9)))
draw_panel('GJ', 'Barley yellow dwarf virus-PAV_ EF521840 (5,675 nts)', 5675, orfs_gj, cov_pos_gj, cov_depth_gj,
           tick_pos_gj, tick_labels_gj, ref_gj, reads_gj,
           dict(label_xy=(1877, 1914), title_xy=(2065, 1918), title_fs=33.9, map_x=(2047, 3635), map_y=(1972, 2045, 2051, 2118),
                track_x=(2036, 3639), cov_base=2180, cov_scale=0.495, ruler_y=(2196, 2222), ruler_x1=3645,
                olive=[], tick_y=(2208, 2211), tick_label_y=2203, tick_fs=5, ref_y=2215, ref_h=5,
                ref_color='#666666', rows=(2228, 14.55, 11.5)))

fig.savefig('out.png', dpi=100, facecolor='white')
